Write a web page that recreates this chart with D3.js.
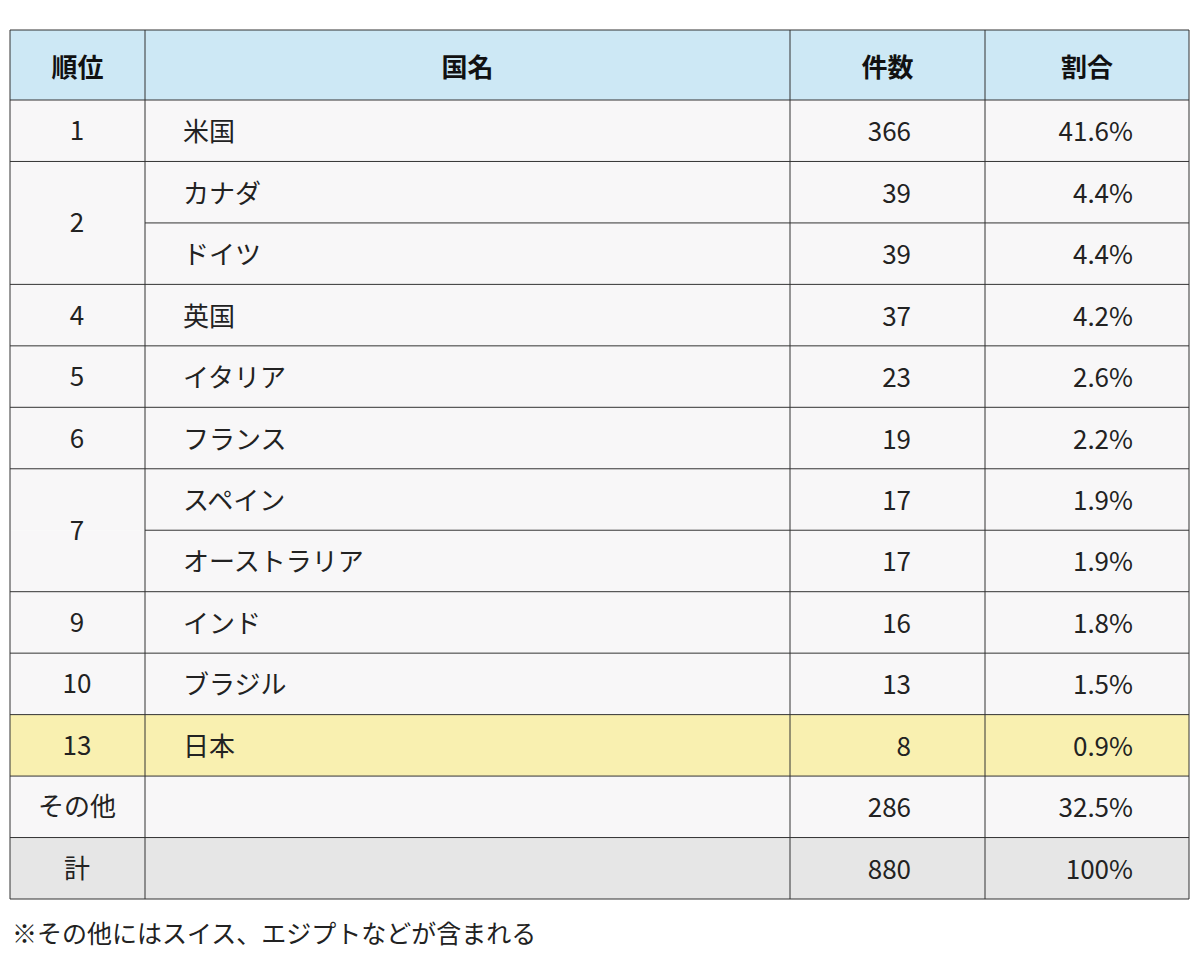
<!DOCTYPE html><html><head><meta charset="utf-8"><script src="https://cdn.jsdelivr.net/npm/d3@7"></script>
<style>body{margin:0;background:#fff}</style></head><body><svg id="c" width="1200" height="970"></svg>
<script>
const headers=["順位","国名","件数","割合"];
const ranks=["1","2","","4","5","6","7","","9","10","13","その他","計"];
const names=["米国","カナダ","ドイツ","英国","イタリア","フランス","スペイン","オーストラリア","インド","ブラジル","日本","",""];
const counts=[366,39,39,37,23,19,17,17,16,13,8,286,880];
const shares=["41.6%","4.4%","4.4%","4.2%","2.6%","2.2%","1.9%","1.9%","1.8%","1.5%","0.9%","32.5%","100%"];
const note="※その他にはスイス、エジプトなどが含まれる";
const svg=d3.select("#c"),F="'Noto Sans CJK JP',sans-serif";
const cols=[10,145,790,985,1189];
const y=d3.scaleBand().domain(d3.range(13)).range([100,899]);
const h=y.bandwidth();
svg.append("rect").attr("x",10).attr("y",30).attr("width",1179).attr("height",70).attr("fill","#cde8f5");
headers.forEach((t,i)=>svg.append("text").attr("x",(cols[i]+cols[i+1])/2).attr("y",65).attr("text-anchor","middle").attr("dominant-baseline","central").attr("font-family",F).attr("font-weight","bold").attr("font-size",26).attr("fill","#111").text(t));
const bg=i=>i===10?"#f9f0b0":i===12?"#e6e6e6":"#f8f7f8";
svg.selectAll(".r").data(d3.range(13)).join("rect").attr("x",10).attr("y",i=>y(i)).attr("width",1179).attr("height",h).attr("fill",bg);
const tx=(x,yy,t,anc)=>svg.append("text").attr("x",x).attr("y",yy).attr("text-anchor",anc).attr("dominant-baseline","central").attr("font-family",F).attr("font-size",26).attr("fill","#222").text(t);
d3.range(13).forEach(i=>{
  const cy=y(i)+h/2-1;
  if(ranks[i]){const span=(i===1||i===6)?h:0; tx(77,cy+span/2-1,ranks[i],"middle");}
  if(names[i])tx(183,cy,names[i],"start");
  tx(911,cy,counts[i],"end");
  tx(1133,cy,shares[i],"end");
});
const L=(x1,y1,x2,y2)=>svg.append("line").attr("x1",x1).attr("y1",y1).attr("x2",x2).attr("y2",y2).attr("stroke","#333").attr("stroke-width",1);
L(10,30,1189,30);L(10,100,1189,100);
d3.range(13).forEach(i=>{const yy=y(i)+h; const x0=(i===1||i===6)?145:10; L(x0,yy,1189,yy);});
cols.forEach(x=>L(x,30,x,899));
svg.append("text").attr("x",12).attr("y",932).attr("dominant-baseline","central").attr("font-family",F).attr("font-size",25).attr("fill","#222").text(note);
</script></body></html>
